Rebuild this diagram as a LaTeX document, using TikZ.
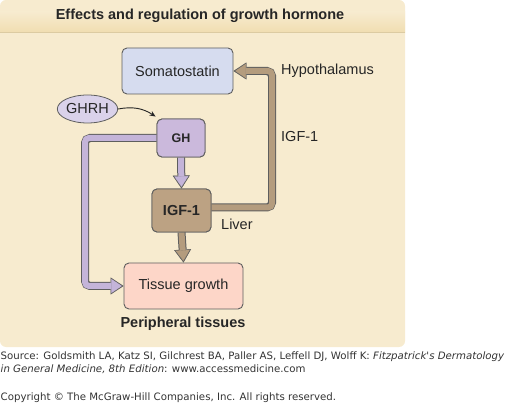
\documentclass[tikz,border=0pt]{standalone}
\usepackage{fontspec}
\setmainfont{Liberation Sans}
\newfontfamily\footfont{DejaVu Sans}
\usepackage{tikz}
\usetikzlibrary{positioning,shapes.geometric,arrows.meta}
\definecolor{panelbg}{HTML}{F7EBCF}
\definecolor{headdark}{HTML}{F0DDB0}
\definecolor{headline}{HTML}{DCCBA2}
\definecolor{edgegray}{HTML}{5E5E5E}
\definecolor{somablue}{HTML}{D6DCEF}
\definecolor{ghrhlav}{HTML}{DAD2EA}
\definecolor{ghpurple}{HTML}{CBB9DC}
\definecolor{igfbrown}{HTML}{BCA283}
\definecolor{tissuepink}{HTML}{FDD6C8}
\definecolor{arrowpurple}{HTML}{C4B4D9}
\definecolor{arrowbrown}{HTML}{B49C7E}

\begin{document}
\begin{tikzpicture}[
    x=1pt, y=-1pt,
    every node/.style={font=\fontsize{14.5}{17}\selectfont, text=black!85},
    box/.style={rectangle, draw=edgegray, line width=0.9pt, rounded corners=5pt, align=center, inner sep=0pt},
    label_text/.style={anchor=west, inner sep=0pt},
    bold_text/.style={font=\fontsize{14.5}{17}\selectfont\bfseries, inner sep=0pt},
    foot/.style={anchor=west, inner sep=0pt, font=\footfont\fontsize{10.2}{12}\selectfont, text=black!80},
    fat_outer/.style={line width=8pt, draw=edgegray, rounded corners=5pt,
        -{Triangle[length=13pt, width=17pt, line width=.4pt]}},
    fat_inner/.style={line width=6pt, draw=#1, rounded corners=4pt, shorten >=1.8pt,
        -{Triangle[length=10.5pt, width=14pt, line width=.4pt]}}
]
\useasboundingbox (0,0) rectangle (506,403);

% Panel and header band
\fill[panelbg, rounded corners=6pt] (0,0) rectangle (405,347);
\shade[top color=panelbg, bottom color=headdark] (0,12) rectangle (405,33);
\draw[headline, line width=1pt] (0,33) -- (405,33);
\node[bold_text] (title) at (200,16) {Effects and regulation of growth hormone};

% Nodes
\node[box, fill=somablue, minimum width=111pt, minimum height=46pt] (soma) at (177.5,71) {Somatostatin};
\node[ellipse, draw=edgegray, line width=0.8pt, fill=ghrhlav, minimum width=57pt, minimum height=28pt, inner sep=0pt] (ghrh) at (87.5,109) {GHRH};
\node[box, fill=ghpurple, minimum width=48pt, minimum height=38pt, font=\fontsize{12.5}{15}\selectfont\bfseries] (gh) at (181,138) {GH};
\node[box, fill=igfbrown, minimum width=59pt, minimum height=43pt, font=\fontsize{14.5}{17}\selectfont\bfseries] (igf) at (181.5,210.5) {IGF-1};
\node[box, fill=tissuepink, minimum width=119pt, minimum height=46pt] (tissue) at (183.5,286) {Tissue growth};

% Labels
\node[label_text] (hypo) at (281,71) {Hypothalamus};
\node[label_text] (igflabel) at (281,137) {IGF-1};
\node[label_text] (liver) at (221,224) {Liver};
\node[bold_text] (periph) at (183,324) {Peripheral tissues};

% Corners of the long connectors
\coordinate (loopcorner) at (272,71);
\coordinate (ghcorner) at (85,286);

% Edges
\draw[-{Stealth[length=6pt, width=5pt]}, line width=0.9pt, black!85] (ghrh.east) to[bend left=22] ([xshift=-1pt, yshift=2pt]gh.north west);

\draw[fat_outer] (gh.south) -- (igf.north);
\draw[fat_inner=arrowpurple] (gh.south) -- (igf.north);

\draw[fat_outer] (igf.south) -- (tissue.north);
\draw[fat_inner=arrowbrown] (igf.south) -- (tissue.north);

\draw[fat_outer] ([yshift=3pt]igf.east) -| (loopcorner) -- (soma.east);
\draw[fat_inner=arrowbrown] ([yshift=3pt]igf.east) -| (loopcorner) -- (soma.east);

\draw[fat_outer] (gh.west) -| (ghcorner) -- (tissue.west);
\draw[fat_inner=arrowpurple] (gh.west) -| (ghcorner) -- (tissue.west);

% Redraw boxes over the connector ends
\node[box, fill=igfbrown, minimum width=59pt, minimum height=43pt, font=\fontsize{14.5}{17}\selectfont\bfseries] at (igf) {IGF-1};
\node[box, fill=ghpurple, minimum width=48pt, minimum height=38pt, font=\fontsize{12.5}{15}\selectfont\bfseries] at (gh) {GH};

% Source lines
\node[foot] (src1) at (0.5,357) {Source: Goldsmith LA, Katz SI, Gilchrest BA, Paller AS, Leffell DJ, Wolff K: \textit{Fitzpatrick's Dermatology}};
\node[foot] (src2) at (0.5,369) {\textit{in General Medicine, 8th Edition}: www.accessmedicine.com};
\node[foot] (copy) at (0.5,398) {Copyright © The McGraw-Hill Companies, Inc. All rights reserved.};

\end{tikzpicture}
\end{document}
